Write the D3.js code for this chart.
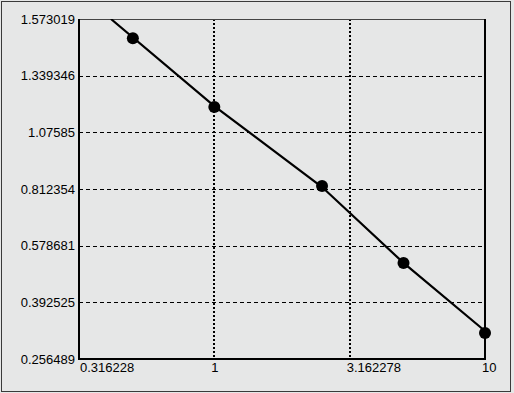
<!DOCTYPE html>
<html>
<head>
<meta charset="utf-8">
<script src="https://cdn.jsdelivr.net/npm/d3@7"></script>
<style>
  html, body { margin: 0; padding: 0; background: #e6e7e7; }
  svg { display: block; }
  text { font-family: "Liberation Sans", Arial, sans-serif; font-size: 13px; fill: #000; }
</style>
</head>
<body>
<svg id="chart" width="514" height="393"></svg>
<script>
// ---------- data ----------
var xTicks = [0.316228, 1, 3.162278, 10];
var xTickLabels = ["0.316228", "1", "3.162278", "10"];
var yTicks = [1.573019, 1.339346, 1.07585, 0.812354, 0.578681, 0.392525, 0.256489];
var yTickLabels = ["1.573019", "1.339346", "1.07585", "0.812354", "0.578681", "0.392525", "0.256489"];

// measured points
var pointX = [0.5, 1, 2.5, 5, 10];
var pointY = [1.4935, 1.1938, 0.826, 0.522, 0.3188];

// fitted line
var fitX = [0.415, 1, 2.5, 5, 10];
var fitY = [1.573, 1.198, 0.8216, 0.522, 0.3237];

// ---------- layout ----------
// (not "top": that name is taken by window.top)
var pLeft = 79, pRight = 485, pTop = 19, pBottom = 359;
var svg = d3.select("#chart");

var x = d3.scaleLog().domain([xTicks[0], xTicks[xTicks.length - 1]]).range([pLeft, pRight]);
var step = (pBottom - pTop) / (yTicks.length - 1);
var y = d3.scaleLinear()
	.domain(yTicks)
	.range(yTicks.map(function(d, i) { return pTop + i * step; }));

// outer frame
svg.append("rect")
	.attr("x", 1.5).attr("y", 1.5)
	.attr("width", 509).attr("height", 390)
	.attr("fill", "#e6e7e7")
	.attr("stroke", "#3a3a3a").attr("stroke-width", 1);

// horizontal grid (dashed)
svg.append("g").selectAll("line")
	.data(yTicks.slice(1, -1))
	.enter().append("line")
		.attr("x1", pLeft).attr("x2", pRight)
		.attr("y1", function(d) { return Math.round(y(d)) + 0.5; })
		.attr("y2", function(d) { return Math.round(y(d)) + 0.5; })
		.attr("stroke", "#000").attr("stroke-width", 1.2)
		.attr("stroke-dasharray", "4,3");

// vertical grid (dotted)
svg.append("g").selectAll("line")
	.data(xTicks.slice(1, -1))
	.enter().append("line")
		.attr("x1", function(d) { return Math.round(x(d)); })
		.attr("x2", function(d) { return Math.round(x(d)); })
		.attr("y1", pTop).attr("y2", pBottom)
		.attr("stroke", "#000").attr("stroke-width", 2)
		.attr("stroke-dasharray", "2,2");

// plot border
svg.append("line").attr("x1", pLeft).attr("x2", pRight).attr("y1", pTop + 0.5).attr("y2", pTop + 0.5)
	.attr("stroke", "#444").attr("stroke-width", 1);
svg.append("line").attr("x1", pLeft).attr("x2", pLeft).attr("y1", pTop).attr("y2", pBottom + 1)
	.attr("stroke", "#000").attr("stroke-width", 2);
svg.append("line").attr("x1", pLeft - 1).attr("x2", pRight + 1).attr("y1", pBottom).attr("y2", pBottom)
	.attr("stroke", "#000").attr("stroke-width", 2);
svg.append("line").attr("x1", pRight).attr("x2", pRight).attr("y1", pTop).attr("y2", pBottom + 1)
	.attr("stroke", "#000").attr("stroke-width", 2);

// fitted line
svg.append("clipPath").attr("id", "clip")
	.append("rect").attr("x", pLeft).attr("y", pTop).attr("width", pRight - pLeft + 2).attr("height", pBottom - pTop);

var line = d3.line()
	.x(function(d) { return x(d[0]); })
	.y(function(d) { return y(d[1]); });

svg.append("path")
	.datum(d3.zip(fitX, fitY))
	.attr("d", line)
	.attr("clip-path", "url(#clip)")
	.attr("fill", "none")
	.attr("stroke", "#000").attr("stroke-width", 2.2);

// points
svg.append("g").selectAll("circle")
	.data(d3.zip(pointX, pointY))
	.enter().append("circle")
		.attr("cx", function(d) { return x(d[0]); })
		.attr("cy", function(d) { return y(d[1]); })
		.attr("r", 6)
		.attr("fill", "#000");

// y labels
svg.append("g").selectAll("text")
	.data(yTicks)
	.enter().append("text")
		.attr("x", pLeft - 4)
		.attr("y", function(d) { return y(d); })
		.attr("dy", "0.35em")
		.attr("text-anchor", "end")
		.text(function(d, i) { return yTickLabels[i]; });

// x labels
svg.append("g").selectAll("text")
	.data(xTicks)
	.enter().append("text")
		.attr("x", function(d, i) { return i === 0 ? x(d) + 1 : x(d) - 3; })
		.attr("y", pBottom + 13)
		.attr("text-anchor", "start")
		.text(function(d, i) { return xTickLabels[i]; });
</script>
</body>
</html>
